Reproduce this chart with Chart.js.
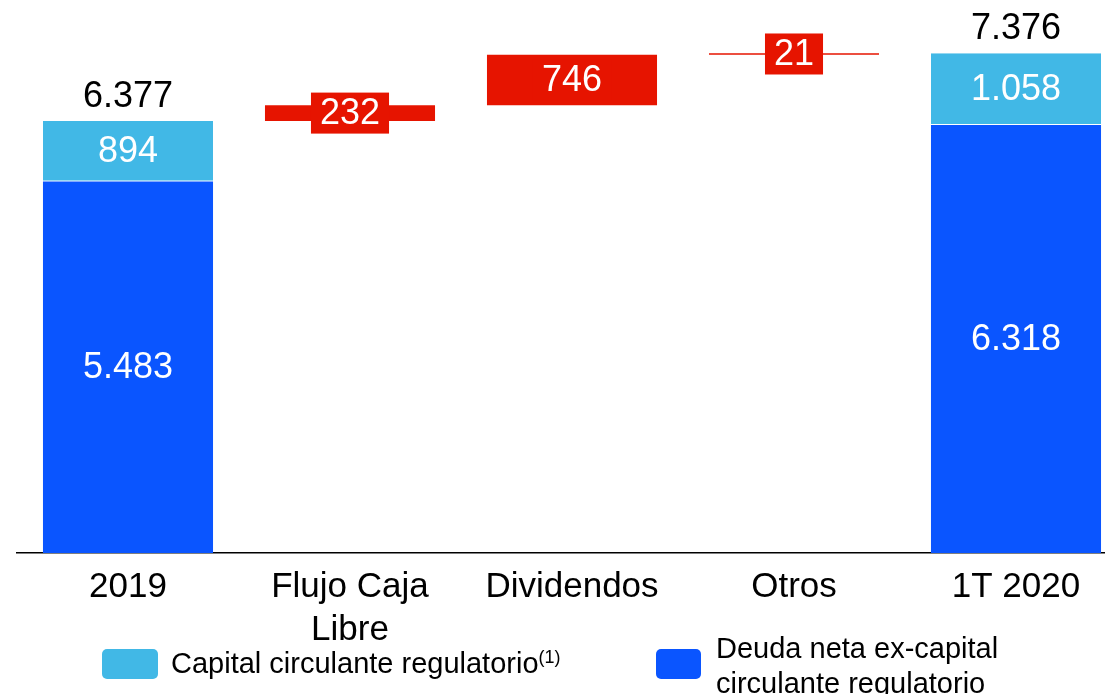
<!DOCTYPE html>
<html>
<head>
<meta charset="utf-8">
<script src="https://cdn.jsdelivr.net/npm/chart.js@4.4.1/dist/chart.umd.min.js"></script>
<style>
  body { margin: 0; background: #fff; overflow: hidden; font-family: "Liberation Sans", Arial, sans-serif; }
  #wrap { position: relative; width: 1105px; height: 694px; overflow: hidden; }
  #chart { position: absolute; left: 0; top: 0; }
  .box { position: absolute; border-radius: 5px; }
  .txt { position: absolute; font-size: 29px; line-height: 35px; color: #000; white-space: nowrap; }
  .sup { font-size: 18px; position: relative; top: -10px; }
</style>
</head>
<body>
<div id="wrap">
  <canvas id="chart" width="1130" height="694"></canvas>
  <div class="box" style="left:102px;top:649px;width:56px;height:30px;background:#41b8e6"></div>
  <div class="txt" style="left:171px;top:646px">Capital circulante regulatorio<span class="sup">(1)</span></div>
  <div class="box" style="left:656px;top:649px;width:45px;height:30px;background:#0a55ff"></div>
  <div class="txt" style="left:716px;top:631px">Deuda neta ex-capital<br>circulante regulatorio</div>
</div>
<script>
const categories = [['2019'], ['Flujo Caja', 'Libre'], ['Dividendos'], ['Otros'], ['1T 2020']];
const deudaNeta = [5483, null, null, null, 6318];
const capitalCirculante = [894, null, null, null, 1058];
const variaciones = [null, 232, 746, 21, null];
const totales = [6377, null, null, null, 7376];

const azulOscuro = '#0a55ff';
const azulClaro = '#41b8e6';
const rojo = '#e61400';
const font = '"Liberation Sans", Arial, sans-serif';

const fmt = v => String(v).replace(/\B(?=(\d{3})+(?!\d))/g, '.');

// floating ranges for the waterfall
let acumulado = 0;
const rangoDeuda = [], rangoCapital = [], rangoVar = [];
categories.forEach((c, i) => {
    if (deudaNeta[i] != null) {
        rangoDeuda.push([0, deudaNeta[i]]);
        rangoCapital.push([deudaNeta[i], deudaNeta[i] + capitalCirculante[i]]);
        rangoVar.push(null);
        acumulado = deudaNeta[i] + capitalCirculante[i];
    } else {
        rangoDeuda.push(null);
        rangoCapital.push(null);
        rangoVar.push([acumulado, acumulado + variaciones[i]]);
        acumulado += variaciones[i];
    }
});

const valueLabels = {
    id: 'valueLabels',
    afterDatasetsDraw(chart) {
        const ctx = chart.ctx;
        ctx.save();
        ctx.font = `36px ${font}`;
        ctx.textAlign = 'center';
        chart.data.datasets.forEach((ds, i) => {
            const meta = chart.getDatasetMeta(i);
            meta.data.forEach((bar, j) => {
                const v = ds.valores[j];
                if (v == null) return;
                const y = (bar.y + bar.base) / 2;
                const txt = fmt(v);
                if (ds.conCaja) {
                    const w = ctx.measureText(txt).width + 18;
                    ctx.fillStyle = rojo;
                    ctx.fillRect(bar.x - w / 2, y - 20.5, w, 41);
                }
                ctx.fillStyle = '#ffffff';
                ctx.textBaseline = 'middle';
                ctx.fillText(txt, bar.x, y + 1);
            });
        });
        const arriba = chart.getDatasetMeta(1);
        totales.forEach((t, j) => {
            if (t == null) return;
            ctx.fillStyle = '#000000';
            ctx.textBaseline = 'alphabetic';
            ctx.fillText(fmt(t), arriba.data[j].x, arriba.data[j].y - 14);
        });
        ctx.restore();
    }
};

new Chart(document.querySelector('#chart'), {
    type: 'bar',
    data: {
        labels: categories,
        datasets: [
            {
                label: 'Deuda neta ex-capital circulante regulatorio',
                data: rangoDeuda,
                valores: deudaNeta,
                backgroundColor: azulOscuro
            },
            {
                label: 'Capital circulante regulatorio',
                data: rangoCapital,
                valores: capitalCirculante,
                backgroundColor: azulClaro,
                borderColor: '#ffffff',
                borderWidth: { top: 0, right: 0, bottom: 1, left: 0 },
                borderSkipped: false
            },
            {
                label: 'Variaciones',
                data: rangoVar,
                valores: variaciones,
                conCaja: true,
                backgroundColor: rojo
            }
        ]
    },
    options: {
        responsive: false,
        animation: false,
        devicePixelRatio: 1,
        layout: { padding: { left: 17, right: 3, top: 11, bottom: 31 } },
        datasets: {
            bar: { grouped: false, barPercentage: 0.766, categoryPercentage: 1 }
        },
        plugins: {
            legend: { display: false },
            tooltip: { enabled: false }
        },
        scales: {
            x: {
                grid: { display: false, drawTicks: false },
                border: { display: true, color: '#000000', width: 1.5 },
                ticks: {
                    color: '#000000',
                    padding: 13,
                    font: { family: font, size: 35, lineHeight: 1.22 }
                },
                afterFit(scale) { scale.height = 110; }
            },
            y: {
                display: false,
                min: 0,
                max: 8000
            }
        }
    },
    plugins: [valueLabels]
});
</script>
</body>
</html>
